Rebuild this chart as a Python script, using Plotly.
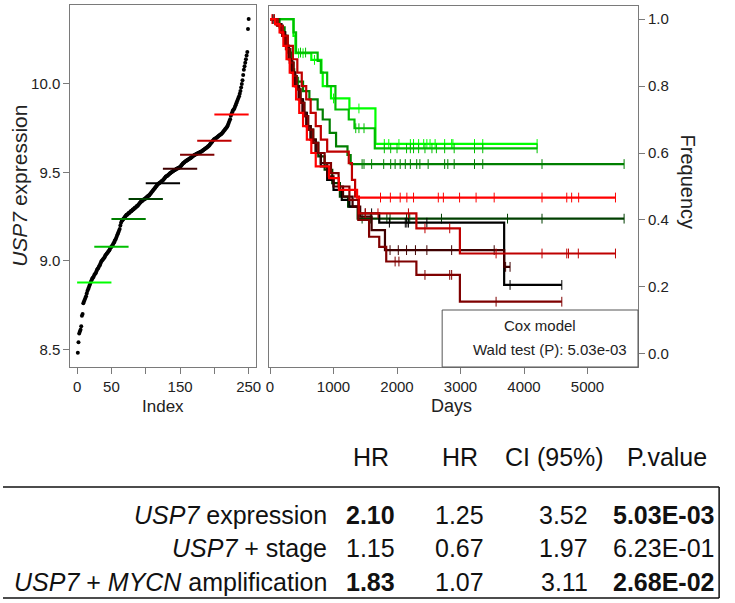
import plotly.graph_objects as go

W, H = 735, 603

# ---------------- Left panel data: sorted USP7 expression ----------------
expr_values = [
    8.48, 8.54, 8.59, 8.60, 8.61, 8.63, 8.69, 8.70, 8.76, 8.77,
    8.78, 8.79, 8.80, 8.815, 8.83, 8.84, 8.85, 8.86, 8.87, 8.88,
    8.89, 8.90, 8.905, 8.91, 8.92, 8.925, 8.93, 8.94, 8.95, 8.955,
    8.96, 8.97, 8.975, 8.985, 8.995, 9.00, 9.005, 9.01, 9.015, 9.02,
    9.03, 9.035, 9.04, 9.045, 9.05, 9.055, 9.06, 9.07, 9.075, 9.08,
    9.085, 9.09, 9.10, 9.105, 9.115, 9.12, 9.13, 9.14, 9.15, 9.16,
    9.17, 9.18, 9.20, 9.215, 9.225, 9.23, 9.235, 9.24, 9.245, 9.25,
    9.255, 9.26, 9.26, 9.265, 9.27, 9.27, 9.275, 9.28, 9.28, 9.285,
    9.29, 9.29, 9.295, 9.30, 9.30, 9.305, 9.31, 9.31, 9.315, 9.32,
    9.325, 9.33, 9.335, 9.335, 9.34, 9.345, 9.345, 9.35, 9.35, 9.355,
    9.36, 9.36, 9.365, 9.37, 9.37, 9.375, 9.38, 9.385, 9.39, 9.395,
    9.40, 9.405, 9.41, 9.415, 9.42, 9.425, 9.43, 9.435, 9.437, 9.44,
    9.443, 9.446, 9.45, 9.453, 9.456, 9.46, 9.465, 9.47, 9.475, 9.478,
    9.48, 9.483, 9.486, 9.49, 9.493, 9.496, 9.50, 9.502, 9.505, 9.508,
    9.51, 9.512, 9.515, 9.517, 9.52, 9.522, 9.524, 9.526, 9.528, 9.53,
    9.535, 9.54, 9.545, 9.55, 9.553, 9.556, 9.56, 9.563, 9.565, 9.568,
    9.57, 9.573, 9.576, 9.578, 9.58, 9.583, 9.586, 9.59, 9.593, 9.596,
    9.598, 9.60, 9.602, 9.604, 9.606, 9.608, 9.61, 9.612, 9.614, 9.616,
    9.618, 9.62, 9.623, 9.626, 9.629, 9.632, 9.635, 9.638, 9.641, 9.644,
    9.647, 9.65, 9.655, 9.66, 9.665, 9.67, 9.675, 9.68, 9.684, 9.688,
    9.69, 9.693, 9.696, 9.699, 9.702, 9.705, 9.708, 9.711, 9.714, 9.717,
    9.72, 9.725, 9.73, 9.735, 9.74, 9.745, 9.75, 9.755, 9.76, 9.77,
    9.78, 9.79, 9.80, 9.82, 9.83, 9.84, 9.85, 9.855, 9.86, 9.87,
    9.88, 9.89, 9.90, 9.91, 9.92, 9.93, 9.945, 9.96, 9.98, 10.00,
    10.02, 10.05, 10.08, 10.10, 10.12, 10.14, 10.16, 10.18, 10.31, 10.367,
]
index_values = list(range(1, len(expr_values) + 1))

group_colors = ["#00FF00", "#00BF00", "#007F00", "#003F00", "#000000",
                "#3F0000", "#7F0000", "#BF0000", "#FF0000"]
window_starts = [0, 25, 50, 75, 100, 125, 150, 175, 200]
window_size = 50
window_means = [8.878, 9.079, 9.237, 9.350, 9.438, 9.521, 9.600, 9.679, 9.827]

left_xticks = [0, 50, 100, 150, 200, 250]
left_xticklabels = ["0", "50", "", "150", "", "250"]
left_yticks = [8.5, 9.0, 9.5, 10.0]
left_yticklabels = ["8.5", "9.0", "9.5", "10.0"]

# ---------------- Right panel data: Kaplan-Meier curves per group ----------------
g1_times = [370, 400, 650, 810, 830, 960, 1250, 1660]
g1_surv = [0.95, 0.898, 0.878, 0.84, 0.80, 0.763, 0.733, 0.627]
g1_cens = [450, 520, 700, 1000, 1400, 1800, 1870, 2030, 2210, 2260, 2340, 2420, 2470,
           2520, 2600, 2750, 2860, 2880, 3220, 3350]
g1_end = 4206

g2_times = [370, 410, 750, 800, 900, 1030, 1240, 1330, 1650]
g2_surv = [0.96, 0.90, 0.875, 0.84, 0.80, 0.73, 0.70, 0.674, 0.614]
g2_cens = [480, 560, 1350, 1400, 1480, 1800, 1900, 2000, 2150, 2210, 2260, 2340, 2440,
           2550, 2620, 2750, 2900, 3220, 3350]
g2_end = 4206

g3_times = [150, 230, 280, 330, 380, 520, 620, 750, 830, 940, 1040, 1220, 1270]
g3_surv = [0.975, 0.95, 0.90, 0.85, 0.813, 0.785, 0.76, 0.73, 0.70, 0.66, 0.62, 0.594, 0.567]
g3_cens = [300, 450, 1450, 1480, 1600, 1790, 1900, 1970, 2050, 2130, 2210, 2310, 2360,
           2490, 2750, 2800, 2900, 3220, 3350, 4283]
g3_end = 5576

g4_times = [130, 200, 260, 320, 370, 420, 480, 540, 600, 680, 760, 860, 980, 1100, 1230, 1380]
g4_surv = [0.98, 0.95, 0.91, 0.87, 0.83, 0.79, 0.75, 0.71, 0.67, 0.63, 0.59, 0.55, 0.51,
           0.47, 0.44, 0.404]
g4_cens = [1450, 1580, 1840, 1890, 2150, 2200, 2700, 3740, 4283]
g4_end = 5576

g5_times = [100, 180, 240, 300, 350, 400, 460, 520, 580, 640, 720, 800, 900, 1000, 1130,
            1250, 1400, 1720, 3687]
g5_surv = [0.985, 0.96, 0.92, 0.88, 0.84, 0.80, 0.76, 0.72, 0.68, 0.64, 0.60, 0.56, 0.52,
           0.49, 0.46, 0.44, 0.42, 0.392, 0.206]
g5_cens = [60, 1500, 1600, 1880, 2130, 2155, 2180, 2470, 3780]
g5_end = 4595

g6_times = [90, 170, 230, 290, 340, 390, 450, 510, 570, 640, 720, 800, 900, 1000, 1150,
            1300, 1420, 1600, 1810, 3687]
g6_surv = [0.985, 0.96, 0.92, 0.88, 0.84, 0.80, 0.76, 0.72, 0.68, 0.64, 0.60, 0.57, 0.53,
           0.50, 0.47, 0.44, 0.41, 0.37, 0.31, 0.26]
g6_cens = [40, 1890, 2020, 2150, 2290, 2470, 2860, 3530, 3710]
g6_end = 3780

g7_times = [110, 190, 250, 310, 370, 420, 480, 540, 600, 680, 760, 860, 960, 1080, 1250,
            1390, 1560, 1720, 1830, 2305, 2990]
g7_surv = [0.98, 0.95, 0.91, 0.87, 0.83, 0.79, 0.75, 0.71, 0.67, 0.63, 0.60, 0.57, 0.54,
           0.50, 0.46, 0.40, 0.35, 0.32, 0.276, 0.236, 0.156]
g7_cens = [1970, 2030, 2440, 2830, 2860, 3560]
g7_end = 4595

g8_times = [120, 200, 280, 360, 430, 500, 570, 640, 720, 800, 900, 1240, 1290, 1340, 1400,
            2305, 2990]
g8_surv = [0.98, 0.95, 0.92, 0.88, 0.84, 0.80, 0.76, 0.72, 0.68, 0.64, 0.604, 0.57, 0.52,
           0.47, 0.42, 0.375, 0.30]
g8_cens = [70, 1500, 1700, 2180, 2440, 2830, 3560, 4283, 4673, 4700, 4855]
g8_end = 5440

g9_times = [80, 150, 210, 260, 310, 360, 410, 460, 520, 580, 650, 720, 930, 1085, 1371]
g9_surv = [0.985, 0.96, 0.92, 0.88, 0.84, 0.80, 0.76, 0.72, 0.68, 0.64, 0.60, 0.56, 0.525,
           0.49, 0.467]
g9_cens = [30, 1740, 1895, 2050, 2155, 2260, 2650, 2730, 2985, 3245, 3530, 4283, 4673,
           4750, 4860]
g9_end = 5440

right_xticks = [0, 1000, 2000, 3000, 4000, 5000]
right_yticks = [0.0, 0.2, 0.4, 0.6, 0.8, 1.0]
right_yticklabels = ["0.0", "0.2", "0.4", "0.6", "0.8", "1.0"]

legend_title = "Cox model"
legend_text = "Wald test (P): 5.03e-03"

# ---------------- Table data ----------------
table_header = ["HR", "HR", "CI (95%)", "P.value"]
row_labels = ["<i>USP7</i> expression", "<i>USP7</i> + stage",
              "<i>USP7</i> + <i>MYCN</i> amplification"]
col_hr = ["2.10", "1.15", "1.83"]
col_hr_low = ["1.25", "0.67", "1.07"]
col_hr_high = ["3.52", "1.97", "3.11"]
col_p = ["5.03E-03", "6.23E-01", "2.68E-02"]
bold_hr = [True, False, True]
bold_p = [True, False, True]

# ---------------- Figure ----------------
FONT = "Liberation Sans, Arial, sans-serif"
TFONT = "Liberation Sans, Arial, sans-serif"
AXC = "#7a7a7a"
TS = 25


def fx(px):
    return px / W


def fy(py):
    return 1 - py / H


def surv_at(times, surv, t):
    s = 1.0
    for tt, ss in zip(times, surv):
        if tt <= t:
            s = ss
    return s


fig = go.Figure()

# sorted expression scatter
fig.add_trace(go.Scatter(x=index_values, y=expr_values, mode="markers",
                         marker=dict(color="black", size=4), xaxis="x", yaxis="y",
                         hoverinfo="skip", showlegend=False))

# window mean segments
for st, mean, col in zip(window_starts, window_means, group_colors):
    fig.add_trace(go.Scatter(x=[st, st + window_size], y=[mean, mean], mode="lines",
                             line=dict(color=col, width=2), xaxis="x", yaxis="y",
                             hoverinfo="skip", showlegend=False))

groups = [
    (g1_times, g1_surv, g1_cens, g1_end),
    (g2_times, g2_surv, g2_cens, g2_end),
    (g3_times, g3_surv, g3_cens, g3_end),
    (g4_times, g4_surv, g4_cens, g4_end),
    (g5_times, g5_surv, g5_cens, g5_end),
    (g6_times, g6_surv, g6_cens, g6_end),
    (g7_times, g7_surv, g7_cens, g7_end),
    (g8_times, g8_surv, g8_cens, g8_end),
    (g9_times, g9_surv, g9_cens, g9_end),
]

for (times, surv, cens, end), col in zip(groups, group_colors):
    xs = [0] + list(times) + [end]
    ys = [1.0] + list(surv) + [surv[-1]]
    fig.add_trace(go.Scatter(x=xs, y=ys, mode="lines", line=dict(color=col, width=2.2, shape="hv"),
                             xaxis="x2", yaxis="y2", hoverinfo="skip", showlegend=False))
    cx = list(cens) + [end]
    cy = [surv_at(times, surv, c) for c in cx]
    fig.add_trace(go.Scatter(x=cx, y=cy, mode="markers",
                             marker=dict(symbol="line-ns-open", size=7, color=col,
                                         line=dict(color=col, width=1)),
                             xaxis="x2", yaxis="y2", hoverinfo="skip", showlegend=False))

axis_common = dict(showgrid=False, zeroline=False, showline=True, mirror=True,
                   linecolor=AXC, linewidth=1, ticks="outside", ticklen=6,
                   tickcolor=AXC, tickwidth=1,
                   tickfont=dict(family=FONT, size=15, color="#222"))

fig.update_layout(
    width=W, height=H,
    margin=dict(l=0, r=0, t=0, b=0),
    paper_bgcolor="white", plot_bgcolor="white",
    font=dict(family=FONT, color="#222"),
    xaxis=dict(domain=[fx(68), fx(256)], range=[-10, 261], tickvals=left_xticks,
               ticktext=left_xticklabels, anchor="y", **axis_common),
    yaxis=dict(domain=[fy(367), fy(5)], range=[8.40, 10.446], tickvals=left_yticks,
               ticktext=left_yticklabels, anchor="x", **axis_common),
    xaxis2=dict(domain=[fx(269), fx(642)], range=[-15, 5795], tickvals=right_xticks,
                anchor="y2", **axis_common),
    yaxis2=dict(domain=[fy(367), fy(6)], range=[-0.039, 1.039], tickvals=right_yticks,
                ticktext=right_yticklabels, side="right", anchor="x2", **axis_common),
)

ann = []
ann.append(dict(text="<i>USP7</i> expression", x=fx(17), y=fy(186), textangle=-90,
                font=dict(size=21, family=FONT, color="#222")))
ann.append(dict(text="Index", x=fx(162), y=fy(406), font=dict(size=17, family=FONT, color="#222")))
ann.append(dict(text="Days", x=fx(453), y=fy(406), font=dict(size=18, family=FONT, color="#222")))
ann.append(dict(text="Frequency", x=fx(693), y=fy(182), textangle=90,
                font=dict(size=20, family=FONT, color="#222")))
ann.append(dict(text=legend_title, x=fx(543), y=fy(325), font=dict(size=15, family=FONT, color="#222")))
ann.append(dict(text=legend_text, x=fx(553), y=fy(349), font=dict(size=15, family=FONT, color="#222")))

# table
hdr_x = [372, 462, 558, 671]
hdr_y = 457
for txt, xx in zip(table_header, hdr_x):
    ann.append(dict(text=txt, x=fx(xx), y=fy(hdr_y), xanchor="center",
                    font=dict(size=TS, family=TFONT, color="#111")))
row_y = [515, 548, 582]
for i, yy in enumerate(row_y):
    ann.append(dict(text=row_labels[i], x=fx(330), y=fy(yy), xanchor="right",
                    font=dict(size=TS, family=TFONT, color="#111")))
    hr = f"<b>{col_hr[i]}</b>" if bold_hr[i] else col_hr[i]
    ann.append(dict(text=hr, x=fx(372), y=fy(yy), xanchor="center",
                    font=dict(size=TS, family=TFONT, color="#111")))
    ann.append(dict(text=col_hr_low[i], x=fx(462), y=fy(yy), xanchor="center",
                    font=dict(size=TS, family=TFONT, color="#111")))
    ann.append(dict(text=col_hr_high[i], x=fx(593), y=fy(yy), xanchor="right",
                    font=dict(size=TS, family=TFONT, color="#111")))
    pv = f"<b>{col_p[i]}</b>" if bold_p[i] else col_p[i]
    ann.append(dict(text=pv, x=fx(721), y=fy(yy), xanchor="right",
                    font=dict(size=TS, family=TFONT, color="#111")))

for a in ann:
    a.setdefault("xref", "paper")
    a.setdefault("yref", "paper")
    a.setdefault("showarrow", False)
    a.setdefault("yanchor", "middle")
    a.setdefault("xanchor", "center")
fig.update_layout(annotations=ann)

shapes = [
    # legend box
    dict(type="rect", xref="paper", yref="paper", x0=fx(444), x1=fx(642), y0=fy(367), y1=fy(310),
         line=dict(color="#555", width=1), fillcolor="white", layer="above"),
    # table frame
    dict(type="line", xref="paper", yref="paper", x0=0, x1=fx(724), y0=fy(487), y1=fy(487),
         line=dict(color="#111", width=1.5)),
    dict(type="line", xref="paper", yref="paper", x0=fx(724), x1=fx(724), y0=fy(487), y1=fy(598),
         line=dict(color="#111", width=1.5)),
    dict(type="line", xref="paper", yref="paper", x0=0, x1=fx(724), y0=fy(598), y1=fy(598),
         line=dict(color="#111", width=1.5)),
]
fig.update_layout(shapes=shapes)

fig.write_html("out.html")
